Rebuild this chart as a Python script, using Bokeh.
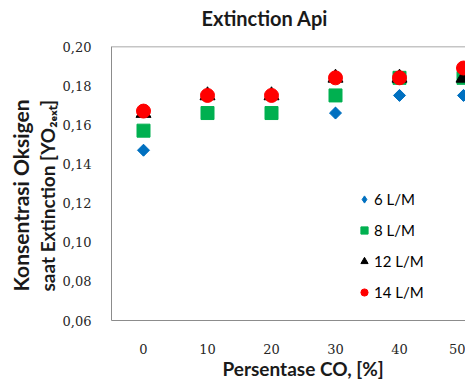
import math
from bokeh.plotting import figure
from bokeh.models import FixedTicker, Span, Legend, LegendItem, Range1d, Title
from bokeh.embed import file_html
from bokeh.resources import INLINE

# ---- data ----
co_pct = [0, 10, 20, 30, 40, 50]
y_6lm = [0.147, 0.166, 0.166, 0.166, 0.175, 0.175]
y_8lm = [0.157, 0.166, 0.166, 0.175, 0.184, 0.184]
y_12lm = [0.166, 0.175, 0.175, 0.184, 0.184, 0.184]
y_14lm = [0.167, 0.175, 0.175, 0.184, 0.184, 0.189]
series_names = ["6 L/M", "8 L/M", "12 L/M", "14 L/M"]
x_ticks = [0, 10, 20, 30, 40, 50]
y_ticks = [0.06, 0.08, 0.10, 0.12, 0.14, 0.16, 0.18, 0.20]
y_tick_labels = ["0,06", "0,08", "0,10", "0,12", "0,14", "0,16", "0,18", "0,20"]
title_text = "Extinction Api"
x_title = "Persentase CO, [%]"
y_title_1 = "Konsentrasi Oksigen"
y_title_2 = "saat Extinction [YO\u2082\u2091\u2093\u209c]"

# ---- layout ----
W, H = 465, 379
ML, MT, MB, MR = 111, 45, 59, 0
frame_w = W - ML - MR
x0 = -5
x1 = x0 + frame_w / 6.4
y0, y1 = 0.06, 0.20

p = figure(width=W, height=H, output_backend="svg", toolbar_location=None,
           x_range=Range1d(x0, x1), y_range=Range1d(y0, y1),
           min_border_left=ML, min_border_top=MT, min_border_bottom=MB,
           min_border_right=MR)
p.outline_line_color = None
p.background_fill_color = "white"
p.border_fill_color = "white"
p.xgrid.visible = False
p.ygrid.visible = False

border_col = "#8c8c8c"
for ax in (p.xaxis[0], p.yaxis[0]):
    ax.axis_line_color = border_col
    ax.major_tick_line_color = None
    ax.minor_tick_line_color = None
    ax.major_tick_out = 0
    ax.major_tick_in = 0
    ax.minor_tick_out = 0
    ax.minor_tick_in = 0
    ax.major_label_text_font = "DejaVu Serif"
    ax.major_label_text_font_size = "13px"
    ax.major_label_text_color = "#262626"
p.xaxis[0].ticker = FixedTicker(ticks=x_ticks)
p.xaxis[0].major_label_standoff = 23
p.yaxis[0].ticker = FixedTicker(ticks=y_ticks)
p.yaxis[0].major_label_overrides = {t: l for t, l in zip(y_ticks, y_tick_labels)}
p.yaxis[0].major_label_standoff = 20

p.add_layout(Span(location=y1, dimension="width", line_color=border_col, line_width=1.5))

c6, c8, c12, c14 = "#0070C0", "#00B050", "black", "#FF0000"
# diamond underneath (used for the legend key), covered by the rotated square
l6 = p.scatter(co_pct, y_6lm, marker="diamond", size=11, fill_color=c6, line_color=c6)
r6 = p.scatter(co_pct, y_6lm, marker="square", angle=math.pi / 4, size=8.5,
               fill_color=c6, line_color=c6)
r8 = p.scatter(co_pct, y_8lm, marker="square", size=13, fill_color=c8, line_color=c8)
r12 = p.scatter(co_pct, y_12lm, marker="triangle", size=15, fill_color=c12, line_color=c12)
r14 = p.scatter(co_pct, y_14lm, marker="circle", size=14, fill_color=c14, line_color=c14)

legend = Legend(items=[LegendItem(label=n, renderers=[r]) for n, r in
                       zip(series_names, [l6, r8, r12, r14])],
                location=(244, 18), orientation="vertical",
                glyph_width=18, glyph_height=20, label_height=20, spacing=11,
                label_standoff=1, padding=0, margin=0,
                border_line_color=None, background_fill_alpha=0,
                label_text_font="Lato", label_text_font_size="15px",
                label_text_color="black")
p.add_layout(legend)

lab_font = "Lato"
tcol = "#1a1a1a"
# spacer between frame and chart title
p.add_layout(Title(text=" ", standoff=9, text_font_size="1px"), "above")
p.add_layout(Title(text=title_text, align="left", offset=90, standoff=8,
                   vertical_align="middle",
                   text_font=lab_font, text_font_size="20px", text_font_style="bold",
                   text_color=tcol), "above")
p.add_layout(Title(text=x_title, align="left", offset=111, standoff=-4,
                   text_font=lab_font, text_font_size="19px", text_font_style="bold",
                   text_color=tcol), "below")
p.add_layout(Title(text=y_title_2, align="left", offset=29, standoff=2,
                   text_font=lab_font, text_font_size="19px", text_font_style="bold",
                   text_color=tcol), "left")
p.add_layout(Title(text=y_title_1, align="left", offset=29, standoff=0,
                   text_font=lab_font, text_font_size="21px", text_font_style="bold",
                   text_color=tcol), "left")

open("out.html", "w").write(file_html(p, INLINE))
